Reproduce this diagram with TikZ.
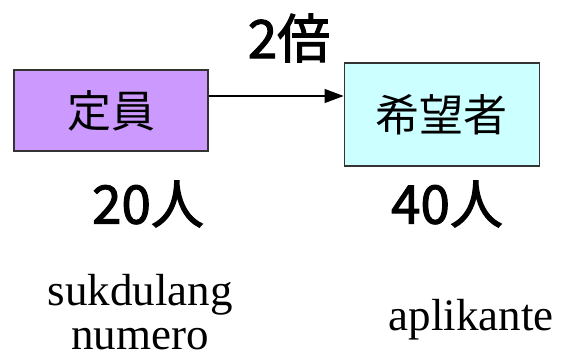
\documentclass[tikz,border=0pt]{standalone}
\usepackage{fontspec}
\newfontfamily\jpfont{Noto Sans CJK JP}
\newfontfamily\jpheavy[FakeBold=2]{Noto Sans CJK JP}
\newfontfamily\glossfont{Liberation Serif}
\usetikzlibrary{arrows.meta,positioning}
\definecolor{staffcol}{HTML}{CC99FF}
\definecolor{applcol}{HTML}{CCFFFF}

\begin{document}
\begin{tikzpicture}[x=1pt,y=1pt,>={Triangle[length=19pt,width=14pt]},
    box/.style={draw=black!80,line width=1.2pt,inner sep=0pt,font=\jpfont\fontsize{44}{44}\selectfont},
    count/.style={font=\jpheavy\fontsize{53}{53}\selectfont},
    gloss/.style={align=center,inner sep=0pt,font=\glossfont\fontsize{45}{44}\selectfont}]

  \useasboundingbox (0,0) rectangle (568,-359);

  % boxes
  \node[box,fill=staffcol,minimum width=194pt,minimum height=81pt] (staff) at (111,-110.5) {定員};
  \node[box,fill=applcol,minimum width=195pt,minimum height=103pt] (appl) [right=135pt of staff,yshift=-4pt] {希望者};

  \draw[->,line width=1.2pt] ([yshift=14.5pt]staff.east) -- ([yshift=14.5pt]staff.east -| appl.west);

  % labels
  \node[count] (ratio) at (289,-38) {2倍};
  \node[count] (staffnum) at (148,-204) {20人};
  \node[count] (applnum) at (447,-204) {40人};
  \node[gloss,anchor=base] (staffword) at (140,-349) {sukdulang\\numero};
  \node[gloss,anchor=base] (applword) at (471,-330) {aplikante};
\end{tikzpicture}
\end{document}
